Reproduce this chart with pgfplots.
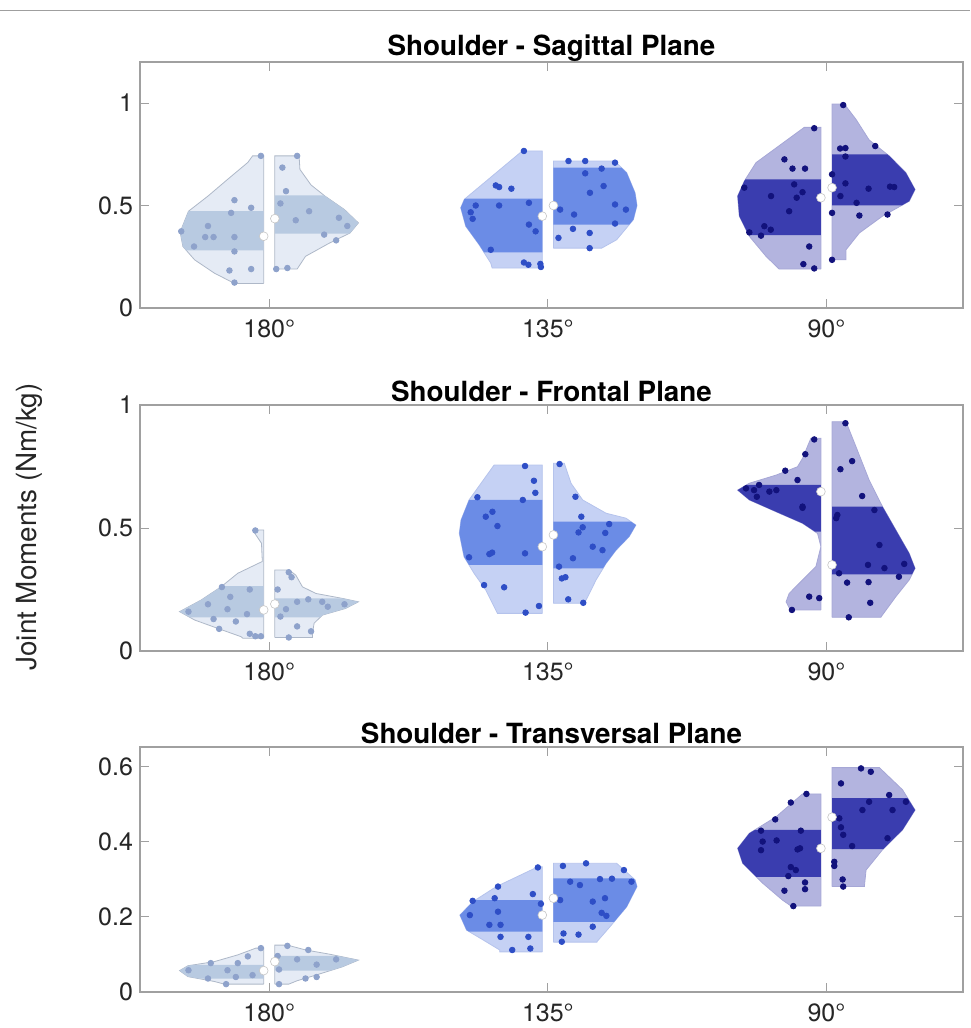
\documentclass[border=0pt]{standalone}
\usepackage{fontspec}
\setmainfont{TeX Gyre Heros}
\usepackage{pgfplots}
\pgfplotsset{compat=1.18}

\definecolor{boxgray}{HTML}{A0A0A0}
\definecolor{labgray}{HTML}{262626}
\definecolor{aout}{HTML}{E5EBF5}
\definecolor{aband}{HTML}{B8CAE1}
\definecolor{aedge}{HTML}{AEB8C8}
\definecolor{apt}{HTML}{8EA2CB}
\definecolor{bout}{HTML}{C5D1F4}
\definecolor{bband}{HTML}{6B8CE6}
\definecolor{bedge}{HTML}{B5C3EC}
\definecolor{bpt}{HTML}{2E4EC6}
\definecolor{cout}{HTML}{B3B4DF}
\definecolor{cband}{HTML}{3A3DAF}
\definecolor{cedge}{HTML}{A6A7D6}
\definecolor{cpt}{HTML}{12127C}

% #1 centre, #2 side, #3 outline (y w), #4 IQR band (y w), #5 colour set, #6 points (y w), #7 median
\newcommand{\hv}[7]{%
 \addplot[fill=#5out, draw=#5edge, line width=0.4pt] table[row sep=\\, x expr={#1+(#2)*(0.02+\thisrow{w})}, y=y] {y w\\ #3};
 \addplot[fill=#5band, draw=none] table[row sep=\\, x expr={#1+(#2)*(0.02+\thisrow{w})}, y=y] {y w\\ #4};
 \addplot[only marks, mark=*, mark size=1.4pt, color=#5pt] table[row sep=\\, x expr={#1+(#2)*(0.02+\thisrow{w})}, y=y] {y w\\ #6};
 \addplot[only marks, mark=*, mark size=2.2pt, mark options={fill=white, draw=gray!45, line width=0.3pt}] table[row sep=\\, x expr={#1+(#2)*0.02}, y=y] {y\\ #7\\};
}

\pgfplotsset{vstyle/.style={
  scale only axis, width=411.5pt, anchor=north west,
  xmin=0.536, xmax=3.49,
  xtick={1,2,3}, xticklabels={180°,135°,90°},
  tick align=inside, major tick length=4.5pt,
  axis line style={draw=boxgray, line width=0.6pt},
  tick style={draw=boxgray, line width=0.5pt},
  ticklabel style={font=\fontsize{12.5}{14}\selectfont, text=labgray},
  xticklabel style={yshift=-2.5pt},
  every axis title shift=0pt,
  title style={font=\bfseries\fontsize{13.9}{16}\selectfont, at={(0.5,1)}, anchor=center, yshift=7pt},
}}

\begin{document}
\begin{tikzpicture}
\path[use as bounding box] (0,0) rectangle (485pt,-514pt);
\draw[gray!75, line width=0.5pt] (0,-5pt) -- (485pt,-5pt);
\node[rotate=90, font=\fontsize{13.9}{16}\selectfont, text=labgray] at (14.5pt,-263.5pt) {Joint Moments (Nm/kg)};

% ---------------- Sagittal
\begin{axis}[vstyle, at={(70pt,-31pt)}, height=123pt, ymin=0, ymax=1.2,
  ytick={0,0.5,1}, yticklabels={0,0.5,1}, title={Shoulder - Sagittal Plane}]
\hv{1}{-1}{0.12 0\\ 0.12 0.105\\ 0.17 0.177\\ 0.235 0.248\\ 0.30 0.29\\ 0.37 0.30\\ 0.472 0.27\\ 0.546 0.20\\ 0.627 0.13\\ 0.71 0.057\\ 0.742 0.04\\ 0.742 0\\ 0.12 0\\}
 {0.281 0\\ 0.281 0.278\\ 0.30 0.29\\ 0.37 0.30\\ 0.472 0.27\\ 0.472 0\\}{a}
 {0.742 0.01\\ 0.526 0.105\\ 0.489 0.045\\ 0.464 0.117\\ 0.374 0.296\\ 0.346 0.21\\ 0.346 0.18\\ 0.346 0.105\\ 0.276 0.105\\ 0.183 0.123\\ 0.19 0.045\\ 0.124 0.105\\ 0.40 0.2\\ 0.30 0.25\\}{0.35}
\hv{1}{1}{0.19 0\\ 0.19 0.08\\ 0.252 0.11\\ 0.316 0.195\\ 0.366 0.27\\ 0.415 0.30\\ 0.48 0.25\\ 0.546 0.18\\ 0.60 0.13\\ 0.676 0.09\\ 0.742 0.087\\ 0.742 0\\ 0.19 0\\}
 {0.363 0\\ 0.363 0.266\\ 0.366 0.27\\ 0.415 0.30\\ 0.48 0.25\\ 0.546 0.18\\ 0.55 0.177\\ 0.55 0\\}{a}
 {0.742 0.08\\ 0.685 0.027\\ 0.57 0.04\\ 0.472 0.123\\ 0.428 0.075\\ 0.44 0.23\\ 0.358 0.177\\ 0.33 0.22\\ 0.195 0.045\\ 0.19 0.005\\ 0.40 0.26\\ 0.51 0.02\\}{0.436}
\hv{2}{-1}{0.195 0\\ 0.195 0.18\\ 0.219 0.185\\ 0.309 0.227\\ 0.399 0.275\\ 0.489 0.293\\ 0.53 0.28\\ 0.766 0.072\\ 0.766 0\\ 0.195 0\\}
 {0.271 0\\ 0.271 0.209\\ 0.309 0.227\\ 0.399 0.275\\ 0.489 0.293\\ 0.53 0.28\\ 0.533 0.277\\ 0.533 0\\}{b}
 {0.766 0.066\\ 0.598 0.167\\ 0.59 0.155\\ 0.582 0.111\\ 0.50 0.239\\ 0.50 0.155\\ 0.513 0.048\\ 0.467 0.257\\ 0.435 0.25\\ 0.407 0.048\\ 0.374 0.024\\ 0.284 0.185\\ 0.222 0.066\\ 0.211 0.05\\ 0.20 0.005\\ 0.215 0.007\\}{0.448}
\hv{2}{1}{0.292 0\\ 0.292 0.173\\ 0.333 0.227\\ 0.431 0.287\\ 0.50 0.30\\ 0.562 0.293\\ 0.66 0.263\\ 0.717 0.22\\ 0.717 0\\ 0.292 0\\}
 {0.407 0\\ 0.407 0.272\\ 0.431 0.287\\ 0.50 0.30\\ 0.562 0.293\\ 0.66 0.263\\ 0.685 0.244\\ 0.685 0\\}{b}
 {0.717 0.054\\ 0.717 0.114\\ 0.709 0.221\\ 0.68 0.173\\ 0.657 0.114\\ 0.595 0.18\\ 0.562 0.131\\ 0.505 0.221\\ 0.48 0.26\\ 0.456 0.074\\ 0.48 0.024\\ 0.412 0.221\\ 0.386 0.07\\ 0.342 0.018\\ 0.366 0.13\\ 0.292 0.13\\}{0.50}
\hv{3}{-1}{0.19 0\\ 0.19 0.15\\ 0.252 0.197\\ 0.35 0.257\\ 0.448 0.293\\ 0.546 0.299\\ 0.619 0.275\\ 0.709 0.233\\ 0.881 0.06\\ 0.881 0\\ 0.19 0\\}
 {0.355 0\\ 0.355 0.259\\ 0.448 0.293\\ 0.546 0.299\\ 0.619 0.275\\ 0.627 0.271\\ 0.627 0\\}{c}
 {0.877 0.024\\ 0.725 0.131\\ 0.68 0.102\\ 0.68 0.057\\ 0.603 0.096\\ 0.565 0.066\\ 0.546 0.179\\ 0.538 0.087\\ 0.587 0.275\\ 0.472 0.114\\ 0.399 0.203\\ 0.382 0.18\\ 0.369 0.257\\ 0.353 0.215\\ 0.30 0.042\\ 0.214 0.063\\ 0.193 0.024\\}{0.538}
\hv{3}{1}{0.235 0\\ 0.235 0.05\\ 0.284 0.05\\ 0.366 0.098\\ 0.448 0.181\\ 0.521 0.277\\ 0.578 0.298\\ 0.66 0.265\\ 0.742 0.205\\ 0.82 0.133\\ 0.92 0.086\\ 0.995 0.044\\ 0.995 0\\ 0.235 0\\}
 {0.501 0\\ 0.501 0.251\\ 0.521 0.277\\ 0.578 0.298\\ 0.66 0.265\\ 0.742 0.205\\ 0.75 0.198\\ 0.75 0\\}{c}
 {0.99 0.04\\ 0.79 0.155\\ 0.778 0.029\\ 0.78 0.048\\ 0.739 0.048\\ 0.652 0.0\\ 0.608 0.048\\ 0.582 0.131\\ 0.592 0.208\\ 0.59 0.223\\ 0.546 0.03\\ 0.513 0.088\\ 0.464 0.0\\ 0.451 0.098\\ 0.456 0.199\\ 0.235 0.0\\}{0.587}
\end{axis}

% ---------------- Frontal
\begin{axis}[vstyle, at={(70pt,-202.5pt)}, height=123pt, ymin=0, ymax=1,
  ytick={0,0.5,1}, yticklabels={0,0.5,1}, title={Shoulder - Frontal Plane}]
\hv{1}{-1}{0.052 0\\ 0.052 0.075\\ 0.058 0.081\\ 0.092 0.165\\ 0.126 0.248\\ 0.16 0.302\\ 0.207 0.225\\ 0.261 0.153\\ 0.316 0.093\\ 0.364 0.005\\ 0.438 0.008\\ 0.492 0.04\\ 0.492 0\\ 0.052 0\\}
 {0.137 0\\ 0.137 0.265\\ 0.16 0.302\\ 0.207 0.225\\ 0.261 0.153\\ 0.264 0.15\\ 0.264 0\\}{a}
 {0.49 0.03\\ 0.26 0.15\\ 0.25 0.05\\ 0.22 0.12\\ 0.19 0.2\\ 0.17 0.13\\ 0.16 0.27\\ 0.15 0.06\\ 0.13 0.18\\ 0.12 0.1\\ 0.09 0.16\\ 0.07 0.05\\ 0.06 0.03\\ 0.06 0.01\\}{0.167}
\hv{1}{1}{0.055 0\\ 0.055 0.135\\ 0.072 0.135\\ 0.113 0.141\\ 0.146 0.171\\ 0.173 0.254\\ 0.20 0.30\\ 0.214 0.242\\ 0.234 0.147\\ 0.261 0.099\\ 0.309 0.075\\ 0.329 0.051\\ 0.329 0\\ 0.055 0\\}
 {0.137 0\\ 0.137 0.163\\ 0.146 0.171\\ 0.173 0.254\\ 0.20 0.30\\ 0.214 0.242\\ 0.214 0\\}{a}
 {0.32 0.05\\ 0.30 0.06\\ 0.25 0.01\\ 0.21 0.12\\ 0.20 0.08\\ 0.19 0.25\\ 0.18 0.19\\ 0.17 0.04\\ 0.10 0.08\\ 0.08 0.13\\ 0.055 0.05\\ 0.20 0.17\\ 0.14 0.02\\}{0.191}
\hv{2}{-1}{0.153 0\\ 0.153 0.161\\ 0.248 0.203\\ 0.316 0.245\\ 0.383 0.281\\ 0.478 0.298\\ 0.532 0.292\\ 0.614 0.263\\ 0.756 0.173\\ 0.756 0\\ 0.153 0\\}
 {0.35 0\\ 0.35 0.263\\ 0.383 0.281\\ 0.478 0.298\\ 0.532 0.292\\ 0.614 0.263\\ 0.614 0\\}{b}
 {0.752 0.062\\ 0.692 0.03\\ 0.643 0.025\\ 0.625 0.233\\ 0.614 0.07\\ 0.566 0.179\\ 0.546 0.203\\ 0.508 0.161\\ 0.394 0.19\\ 0.381 0.263\\ 0.397 0.062\\ 0.268 0.209\\ 0.259 0.137\\ 0.183 0.012\\ 0.156 0.06\\ 0.40 0.18\\}{0.424}
\hv{2}{1}{0.194 0\\ 0.194 0.111\\ 0.234 0.129\\ 0.289 0.153\\ 0.356 0.189\\ 0.41 0.225\\ 0.465 0.272\\ 0.512 0.296\\ 0.54 0.26\\ 0.56 0.189\\ 0.614 0.105\\ 0.682 0.063\\ 0.763 0.039\\ 0.763 0\\ 0.194 0\\}
 {0.336 0\\ 0.336 0.178\\ 0.356 0.189\\ 0.41 0.225\\ 0.465 0.272\\ 0.512 0.296\\ 0.526 0.278\\ 0.526 0\\}{b}
 {0.76 0.022\\ 0.627 0.079\\ 0.546 0.1\\ 0.516 0.2\\ 0.503 0.105\\ 0.482 0.09\\ 0.48 0.186\\ 0.424 0.141\\ 0.41 0.176\\ 0.377 0.07\\ 0.343 0.02\\ 0.295 0.03\\ 0.30 0.043\\ 0.21 0.053\\ 0.196 0.107\\}{0.472}
\hv{3}{-1}{0.167 0\\ 0.167 0.11\\ 0.2 0.125\\ 0.234 0.114\\ 0.289 0.066\\ 0.343 0.018\\ 0.424 0.0\\ 0.478 0.012\\ 0.519 0.066\\ 0.566 0.161\\ 0.614 0.257\\ 0.654 0.299\\ 0.682 0.257\\ 0.715 0.161\\ 0.749 0.084\\ 0.783 0.066\\ 0.865 0.036\\ 0.865 0\\ 0.167 0\\}
 {0.485 0\\ 0.485 0.021\\ 0.519 0.066\\ 0.566 0.161\\ 0.614 0.257\\ 0.654 0.299\\ 0.675 0.268\\ 0.675 0\\}{c}
 {0.86 0.024\\ 0.80 0.056\\ 0.733 0.128\\ 0.695 0.084\\ 0.661 0.269\\ 0.675 0.222\\ 0.654 0.24\\ 0.648 0.185\\ 0.654 0.16\\ 0.627 0.23\\ 0.587 0.066\\ 0.582 0.066\\ 0.221 0.042\\ 0.215 0.006\\ 0.167 0.104\\}{0.648}
\hv{3}{1}{0.137 0\\ 0.137 0.176\\ 0.139 0.176\\ 0.221 0.229\\ 0.289 0.277\\ 0.336 0.298\\ 0.397 0.277\\ 0.492 0.229\\ 0.587 0.181\\ 0.695 0.133\\ 0.83 0.086\\ 0.932 0.05\\ 0.932 0\\ 0.137 0\\}
 {0.312 0\\ 0.312 0.287\\ 0.336 0.298\\ 0.397 0.277\\ 0.492 0.229\\ 0.587 0.181\\ 0.587 0\\}{c}
 {0.926 0.048\\ 0.772 0.072\\ 0.739 0.03\\ 0.63 0.108\\ 0.573 0.152\\ 0.553 0.019\\ 0.54 0.015\\ 0.431 0.17\\ 0.35 0.129\\ 0.337 0.188\\ 0.354 0.259\\ 0.316 0.025\\ 0.302 0.24\\ 0.278 0.054\\ 0.28 0.131\\ 0.196 0.137\\ 0.137 0.06\\}{0.35}
\end{axis}

% ---------------- Transversal
\begin{axis}[vstyle, at={(70pt,-373.5pt)}, height=122.5pt, ymin=0, ymax=0.653,
  ytick={0,0.2,0.4,0.6}, yticklabels={0,0.2,0.4,0.6}, title={Shoulder - Transversal Plane}]
\hv{1}{-1}{0.021 0\\ 0.021 0.141\\ 0.028 0.177\\ 0.041 0.272\\ 0.057 0.302\\ 0.07 0.272\\ 0.081 0.177\\ 0.099 0.093\\ 0.117 0.028\\ 0.117 0\\ 0.021 0\\}
 {0.036 0\\ 0.036 0.235\\ 0.041 0.272\\ 0.057 0.302\\ 0.07 0.272\\ 0.072 0.255\\ 0.072 0\\}{a}
 {0.117 0.01\\ 0.095 0.057\\ 0.077 0.19\\ 0.077 0.093\\ 0.058 0.27\\ 0.058 0.13\\ 0.036 0.2\\ 0.04 0.1\\ 0.021 0.135\\ 0.045 0.04\\}{0.057}
\hv{1}{1}{0.021 0\\ 0.021 0.05\\ 0.03 0.08\\ 0.045 0.147\\ 0.067 0.242\\ 0.085 0.30\\ 0.101 0.195\\ 0.112 0.111\\ 0.125 0.045\\ 0.125 0\\ 0.021 0\\}
 {0.057 0\\ 0.057 0.199\\ 0.067 0.242\\ 0.085 0.30\\ 0.096 0.228\\ 0.096 0\\}{a}
 {0.123 0.045\\ 0.112 0.12\\ 0.096 0.01\\ 0.087 0.08\\ 0.087 0.22\\ 0.073 0.15\\ 0.06 0.015\\ 0.036 0.11\\ 0.04 0.15\\ 0.021 0.015\\}{0.081}
\hv{2}{-1}{0.107 0\\ 0.107 0.153\\ 0.112 0.153\\ 0.139 0.213\\ 0.165 0.272\\ 0.205 0.296\\ 0.241 0.249\\ 0.281 0.165\\ 0.334 0.015\\ 0.334 0\\ 0.107 0\\}
 {0.161 0\\ 0.161 0.263\\ 0.165 0.272\\ 0.205 0.296\\ 0.241 0.249\\ 0.245 0.241\\ 0.245 0\\}{b}
 {0.332 0.016\\ 0.281 0.159\\ 0.261 0.034\\ 0.243 0.25\\ 0.25 0.171\\ 0.235 0.005\\ 0.214 0.159\\ 0.205 0.26\\ 0.179 0.19\\ 0.179 0.15\\ 0.147 0.15\\ 0.147 0.05\\ 0.112 0.108\\ 0.116 0.043\\}{0.205}
\hv{2}{1}{0.133 0\\ 0.133 0.156\\ 0.134 0.156\\ 0.174 0.203\\ 0.227 0.263\\ 0.281 0.30\\ 0.299 0.293\\ 0.343 0.227\\ 0.343 0\\ 0.133 0\\}
 {0.187 0\\ 0.187 0.218\\ 0.227 0.263\\ 0.281 0.30\\ 0.299 0.293\\ 0.303 0.287\\ 0.303 0\\}{b}
 {0.336 0.034\\ 0.343 0.117\\ 0.325 0.253\\ 0.294 0.06\\ 0.285 0.095\\ 0.301 0.167\\ 0.302 0.21\\ 0.294 0.28\\ 0.245 0.024\\ 0.241 0.141\\ 0.25 0.185\\ 0.211 0.173\\ 0.203 0.19\\ 0.174 0.141\\ 0.156 0.036\\ 0.153 0.09\\ 0.134 0.03\\}{0.25}
\hv{3}{-1}{0.229 0\\ 0.229 0.107\\ 0.245 0.138\\ 0.29 0.209\\ 0.343 0.281\\ 0.383 0.299\\ 0.423 0.257\\ 0.467 0.161\\ 0.528 0.066\\ 0.528 0\\ 0.229 0\\}
 {0.307 0\\ 0.307 0.232\\ 0.343 0.281\\ 0.383 0.299\\ 0.423 0.257\\ 0.432 0.237\\ 0.432 0\\}{c}
 {0.528 0.052\\ 0.505 0.108\\ 0.46 0.164\\ 0.43 0.215\\ 0.43 0.072\\ 0.401 0.209\\ 0.404 0.159\\ 0.383 0.075\\ 0.38 0.084\\ 0.378 0.215\\ 0.333 0.108\\ 0.325 0.09\\ 0.309 0.117\\ 0.292 0.057\\ 0.274 0.057\\ 0.27 0.131\\ 0.229 0.099\\}{0.383}
\hv{3}{1}{0.281 0\\ 0.281 0.116\\ 0.325 0.122\\ 0.379 0.181\\ 0.432 0.253\\ 0.485 0.298\\ 0.539 0.253\\ 0.598 0.17\\ 0.598 0\\ 0.281 0\\}
 {0.381 0\\ 0.381 0.184\\ 0.432 0.253\\ 0.485 0.298\\ 0.517 0.271\\ 0.517 0\\}{c}
 {0.596 0.104\\ 0.587 0.139\\ 0.556 0.032\\ 0.525 0.205\\ 0.507 0.133\\ 0.507 0.265\\ 0.485 0.109\\ 0.485 0.217\\ 0.463 0.026\\ 0.439 0.032\\ 0.419 0.04\\ 0.389 0.072\\ 0.41 0.199\\ 0.347 0.008\\ 0.336 0.008\\ 0.30 0.038\\ 0.281 0.04\\}{0.466}
\end{axis}
\end{tikzpicture}
\end{document}
